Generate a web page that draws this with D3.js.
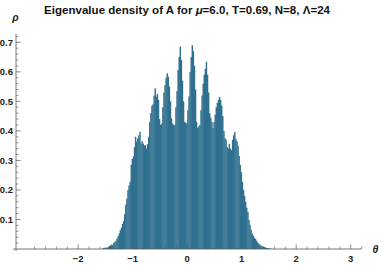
<!DOCTYPE html>
<html>
<head>
<meta charset="utf-8">
<script src="https://cdn.jsdelivr.net/npm/d3@7"></script>
<style>
  html, body { margin: 0; padding: 0; background: #fff; }
  svg { display: block; font-family: "Liberation Sans", Arial, sans-serif; }
</style>
</head>
<body>
<svg width="379" height="265"></svg>
<script>
// histogram of eigenvalue angles, bins of width 0.02 starting at -1.6
var binStart = -1.6;
var binWidth = 0.02;
var density = [
  0, 0, 0.002, 0.004, 0.004, 0.005, 0.004, 0.007, 0.010, 0.012,
  0.015, 0.013, 0.020, 0.024, 0.028, 0.036, 0.044, 0.052, 0.064, 0.072,
  0.085, 0.095, 0.118, 0.150, 0.170, 0.200, 0.215, 0.228, 0.285, 0.305,
  0.313, 0.345, 0.380, 0.363, 0.375, 0.385, 0.397, 0.357, 0.365, 0.357,
  0.350, 0.352, 0.340, 0.355, 0.380, 0.430, 0.460, 0.485, 0.490, 0.520,
  0.544, 0.516, 0.525, 0.505, 0.440, 0.420, 0.425, 0.480, 0.530, 0.555,
  0.580, 0.595, 0.584, 0.550, 0.500, 0.442, 0.425, 0.420, 0.420, 0.480,
  0.535, 0.606, 0.650, 0.685, 0.640, 0.570, 0.500, 0.430, 0.428, 0.425,
  0.470, 0.516, 0.600, 0.650, 0.690, 0.670, 0.620, 0.540, 0.430, 0.410,
  0.415, 0.420, 0.470, 0.520, 0.560, 0.590, 0.610, 0.634, 0.590, 0.530,
  0.460, 0.445, 0.430, 0.410, 0.430, 0.455, 0.480, 0.495, 0.505, 0.515,
  0.505, 0.485, 0.450, 0.400, 0.375, 0.370, 0.345, 0.340, 0.356, 0.340,
  0.335, 0.370, 0.385, 0.396, 0.372, 0.365, 0.350, 0.315, 0.285, 0.260,
  0.228, 0.200, 0.180, 0.160, 0.140, 0.125, 0.098, 0.082, 0.065, 0.052,
  0.045, 0.038, 0.034, 0.028, 0.022, 0.018, 0.015, 0.012, 0.010, 0.008,
  0.007, 0.005, 0.004, 0.003, 0.002, 0.002, 0.001, 0, 0, 0
];
var xMajor = [-2, -1, 0, 1, 2, 3];
var yMajor = [0.1, 0.2, 0.3, 0.4, 0.5, 0.6, 0.7];

var svg = d3.select("svg");

var x = d3.scaleLinear().domain([-Math.PI, 3.2]).range([16, 16 + 54.5 * (3.2 + Math.PI)]);
var y = d3.scaleLinear().domain([0, 0.7]).range([249, 249 - 0.7 * 295.3]);

var bins = density.map(function(v, i) {
  var x0 = binStart + i * binWidth;
  return {x0: x0, x1: x0 + binWidth, v: v};
});

// bars (slightly widened so neighbours touch without seams)
svg.append("g")
  .selectAll("rect")
  .data(bins.filter(function(d) { return d.v > 0; }))
  .enter().append("rect")
  .attr("x", function(d) { return x(d.x0); })
  .attr("width", function(d) { return x(d.x1) - x(d.x0) + 0.35; })
  .attr("y", function(d) { return y(d.v); })
  .attr("height", function(d) { return y(0) - y(d.v); })
  .attr("fill", "#30708f");

var axisColor = "#555";

// x axis
var xMinor = d3.range(-3.0, 3.21, 0.2).filter(function(t) {
  return Math.abs(t - Math.round(t)) > 1e-6;
});
var gx = svg.append("g");
gx.append("line")
  .attr("x1", 13).attr("x2", x(3.2))
  .attr("y1", y(0)).attr("y2", y(0))
  .attr("stroke", axisColor).attr("stroke-width", 0.8);
gx.selectAll("line.minor").data(xMinor).enter().append("line")
  .attr("x1", function(d) { return x(d); }).attr("x2", function(d) { return x(d); })
  .attr("y1", y(0)).attr("y2", y(0) - 2.5)
  .attr("stroke", axisColor).attr("stroke-width", 0.6);
gx.selectAll("line.major").data(xMajor).enter().append("line")
  .attr("x1", function(d) { return x(d); }).attr("x2", function(d) { return x(d); })
  .attr("y1", y(0)).attr("y2", y(0) - 4.5)
  .attr("stroke", axisColor).attr("stroke-width", 0.7);
gx.selectAll("text").data(xMajor).enter().append("text")
  .attr("x", function(d) { return x(d); })
  .attr("y", 262)
  .attr("text-anchor", "middle")
  .attr("font-size", 9.5).attr("font-weight", "bold").attr("fill", "#222")
  .text(function(d) { return d < 0 ? "\u2212" + (-d) : d; });

// y axis
var yMinor = d3.range(0.02, 0.73, 0.02).filter(function(t) {
  return Math.abs(t * 10 - Math.round(t * 10)) > 1e-6;
});
var gy = svg.append("g");
gy.append("line")
  .attr("x1", 16).attr("x2", 16)
  .attr("y1", 251).attr("y2", 34)
  .attr("stroke", axisColor).attr("stroke-width", 0.8);
gy.selectAll("line.minor").data(yMinor).enter().append("line")
  .attr("x1", 16).attr("x2", 18.5)
  .attr("y1", function(d) { return y(d); }).attr("y2", function(d) { return y(d); })
  .attr("stroke", axisColor).attr("stroke-width", 0.6);
gy.selectAll("line.major").data(yMajor).enter().append("line")
  .attr("x1", 16).attr("x2", 20.5)
  .attr("y1", function(d) { return y(d); }).attr("y2", function(d) { return y(d); })
  .attr("stroke", axisColor).attr("stroke-width", 0.7);
gy.selectAll("text").data(yMajor).enter().append("text")
  .attr("x", 13)
  .attr("y", function(d) { return y(d) + 3.3; })
  .attr("text-anchor", "end")
  .attr("font-size", 9.5).attr("font-weight", "bold").attr("fill", "#222")
  .text(function(d) { return d.toFixed(1); });

// axis labels
svg.append("text")
  .attr("x", 15.5).attr("y", 21)
  .attr("text-anchor", "middle")
  .attr("font-size", 10.5).attr("font-style", "italic").attr("font-weight", "bold")
  .attr("fill", "#222")
  .text("\u03c1");
svg.append("text")
  .attr("x", 375.5).attr("y", 253)
  .attr("text-anchor", "middle")
  .attr("font-size", 10.5).attr("font-style", "italic").attr("font-weight", "bold")
  .attr("fill", "#222")
  .text("\u03b8");

// title
var title = svg.append("text")
  .attr("x", 187).attr("y", 13.5)
  .attr("text-anchor", "middle")
  .attr("font-size", 11.5).attr("font-weight", "bold").attr("fill", "#111")
  .attr("textLength", 286).attr("lengthAdjust", "spacing");
title.append("tspan").text("Eigenvalue density of A for ");
title.append("tspan").attr("font-style", "italic").text("\u03bc");
title.append("tspan").text("=6.0, T=0.69, N=8, \u039b=24");
</script>
</body>
</html>
